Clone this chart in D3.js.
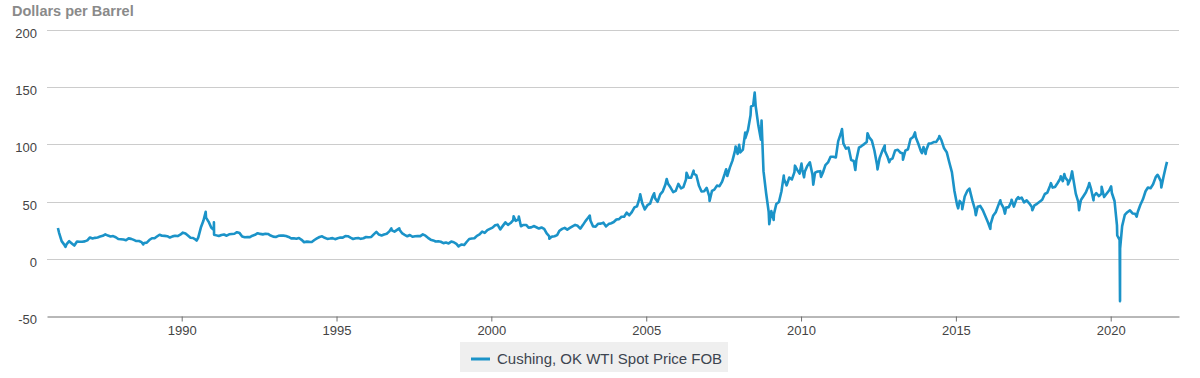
<!DOCTYPE html>
<html>
<head>
<meta charset="utf-8">
<script src="https://cdn.jsdelivr.net/npm/d3@7"></script>
<style>
  html, body { margin: 0; padding: 0; background: #fff; }
  svg { display: block; font-family: "Liberation Sans", Arial, sans-serif; }
</style>
</head>
<body>
<svg id="chart" width="1200" height="378"></svg>
<script>
// ---------- DATA ----------
const startYear = 1986;            // monthly averages begin January 1986
const monthlyPrices = [
  22.93,15.46,12.61,12.84,15.38,13.43,11.59,15.10,14.87,14.90,15.22,16.11, // 1986
  18.65,17.75,18.30,18.68,19.44,20.07,21.34,20.31,19.53,19.86,18.85,17.28, // 1987
  17.13,16.80,16.20,17.86,17.42,16.53,15.50,15.52,14.54,13.77,14.14,16.38, // 1988
  18.02,17.94,19.48,21.07,20.12,20.05,19.78,18.58,19.59,20.10,19.86,21.10, // 1989
  22.86,22.11,20.39,18.43,18.20,16.70,18.45,27.31,33.51,36.04,32.33,27.28, // 1990
  25.23,20.48,19.90,20.83,21.23,20.19,21.40,21.69,21.89,23.23,22.46,19.50, // 1991
  18.79,19.01,18.92,20.23,20.98,22.39,21.78,21.34,21.88,21.69,20.34,19.41, // 1992
  19.03,20.09,20.32,20.25,19.95,19.09,17.89,18.01,17.50,18.15,16.61,14.52, // 1993
  15.03,14.78,14.68,16.42,17.89,19.06,19.66,18.38,17.45,17.72,18.07,17.16, // 1994
  18.04,18.57,18.54,19.90,19.74,18.45,17.33,18.02,18.23,17.43,17.99,19.03, // 1995
  18.86,19.09,21.33,23.50,21.17,20.42,21.30,21.90,23.97,24.88,23.71,25.23, // 1996
  25.13,22.18,20.97,19.70,20.82,19.26,19.66,19.95,19.80,21.33,20.19,18.33, // 1997
  16.72,16.06,15.12,15.35,14.91,13.72,14.17,13.47,15.03,14.46,13.00,11.35, // 1998
  12.52,12.01,14.68,17.31,17.72,17.92,20.10,21.28,23.80,22.69,25.00,26.10, // 1999
  27.26,29.37,29.84,25.72,28.79,31.82,29.70,31.26,33.88,33.11,34.42,28.44, // 2000
  29.59,29.61,27.25,27.49,28.63,27.60,26.43,27.37,26.20,22.17,19.64,19.39, // 2001
  19.72,20.72,24.53,26.18,27.04,25.52,26.97,28.39,29.66,28.84,26.35,29.46, // 2002
  32.95,35.83,33.51,28.17,28.11,30.66,30.76,31.57,28.31,30.34,31.11,32.13, // 2003
  34.31,34.69,36.74,36.75,40.28,38.03,40.78,44.90,45.94,53.28,48.47,43.15, // 2004
  46.84,48.15,54.19,52.98,49.83,56.35,59.00,64.99,65.59,62.26,58.32,59.41, // 2005
  65.49,61.63,62.69,69.44,70.84,70.95,74.41,73.04,63.80,58.89,59.08,61.96, // 2006
  54.51,59.28,60.44,63.98,63.46,67.49,74.12,72.36,79.92,85.80,94.77,91.69, // 2007
  92.97,95.39,105.45,112.58,125.40,133.88,133.37,116.67,104.11,76.61,57.31,41.12, // 2008
  41.71,39.09,47.94,49.65,59.03,69.64,64.15,71.05,69.41,75.72,77.99,74.47, // 2009
  78.33,76.39,81.20,84.29,73.74,75.34,76.32,76.60,75.24,81.89,84.25,89.15, // 2010
  89.17,88.58,102.86,109.53,100.90,96.26,97.30,86.33,85.52,86.32,97.16,98.56, // 2011
  100.27,102.20,106.16,103.32,94.66,82.30,87.90,94.13,94.51,89.49,86.53,87.86, // 2012
  94.76,95.31,92.94,92.02,94.51,95.77,104.67,106.57,106.29,100.54,93.86,97.63, // 2013
  94.62,100.82,100.80,102.07,102.18,105.79,103.59,96.54,93.21,84.40,75.79,59.29, // 2014
  47.22,50.58,47.82,54.45,59.27,59.82,50.90,42.87,45.48,46.22,42.44,37.19, // 2015
  31.68,30.32,37.55,40.75,46.71,48.76,44.65,44.72,45.18,49.78,45.66,51.97, // 2016
  52.50,53.47,49.33,51.06,48.48,45.18,46.63,48.04,49.82,51.58,56.64,57.88, // 2017
  63.70,62.23,62.73,66.25,69.98,67.87,70.98,68.06,70.23,70.75,56.96,49.52, // 2018
  51.38,54.95,58.15,63.86,60.83,54.66,57.35,54.81,56.95,53.96,57.03,59.88, // 2019
  57.52,50.54,29.21,16.55,28.56,38.31,40.71,42.34,39.63,39.40,40.94,47.02, // 2020
  52.00,59.04,62.33,61.72,65.17,71.38,72.49,67.73,71.65,81.48              // 2021
];
// daily highs / lows visible in the chart
const spikeDates = [
  "1986-01-02","1986-04-01","1988-10-05","1990-06-26","1990-10-11","1991-01-16","1991-01-18",
  "1996-10-08","1997-01-10","1998-12-10","2000-09-20","2000-11-20","2001-11-15","2003-03-07",
  "2004-10-22","2005-04-04","2005-08-30","2006-04-21","2006-07-14","2007-01-18","2007-08-01",
  "2007-11-21","2008-01-02","2008-03-13","2008-05-21","2008-07-03","2008-09-22","2008-12-22",
  "2009-02-12","2009-06-11","2009-10-21","2010-01-06","2010-02-05","2010-05-25","2010-08-24",
  "2011-04-29","2011-10-03","2012-02-24","2012-06-21","2012-09-14","2012-11-07","2013-04-17",
  "2013-09-06","2013-11-27","2014-01-09","2014-06-20","2015-01-28","2015-03-17","2015-06-10",
  "2015-08-24","2016-02-11","2016-06-08","2016-08-02","2016-10-19","2017-01-06","2017-06-21",
  "2018-01-26","2018-05-22","2018-07-03","2018-08-15","2018-10-03","2018-12-24","2019-01-02",
  "2019-04-23","2019-06-12","2019-09-16","2020-01-06","2020-03-18","2020-04-20","2020-04-21",
  "2020-11-02","2021-07-06","2021-08-20","2021-10-26"
];
const spikeValues = [
  26.9,10.4,12.6,15.9,41.1,32.0,21.1,
  26.6,26.6,10.8,37.2,36.9,17.5,37.8,
  56.4,57.3,69.8,75.2,77.0,50.5,78.2,
  98.2,99.6,110.3,133.2,145.3,120.9,30.3,
  34.0,72.7,81.4,83.2,71.2,64.8,71.6,
  113.4,77.6,109.8,78.2,99.0,84.4,86.7,
  110.5,92.3,91.7,107.3,44.1,43.4,61.4,
  38.2,26.2,51.2,39.5,51.6,53.9,42.5,
  66.1,72.2,74.1,65.0,76.4,42.5,46.5,
  66.3,51.1,62.9,63.3,20.4,-37.0,8.9,
  36.8,73.4,62.3,84.7
];
const yTicks = [-50, 0, 50, 100, 150, 200];
const xTickYears = [1990, 1995, 2000, 2005, 2010, 2015, 2020];
const seriesName = "Cushing, OK WTI Spot Price FOB";
const yTitle = "Dollars per Barrel";

// ---------- BUILD SERIES ----------
const points = monthlyPrices.map((v, i) => ({
  date: new Date(startYear + Math.floor(i / 12), i % 12, 15), value: v
}));
const parse = d3.timeParse("%Y-%m-%d");
spikeDates.forEach((d, i) => points.push({ date: parse(d), value: spikeValues[i] }));
points.sort((a, b) => a.date - b.date);

// ---------- LAYOUT ----------
const svg = d3.select("#chart");
const plotLeft = 47, plotRight = 1179, plotTop = 30, plotBottom = 316;

const xRef = d3.scaleTime()
  .domain([new Date(1990, 0, 1), new Date(2020, 0, 1)])
  .range([181.7, 1110.7]);
const x = d3.scaleTime()
  .domain([xRef.invert(plotLeft), xRef.invert(plotRight)])
  .range([plotLeft, plotRight]);
const y = d3.scaleLinear().domain([-50, 200]).range([plotBottom, plotTop]);

// gridlines
svg.append("g").selectAll("line")
  .data(yTicks.filter(t => t !== -50))
  .join("line")
  .attr("x1", plotLeft).attr("x2", plotRight)
  .attr("y1", d => Math.round(y(d)) + 0.5).attr("y2", d => Math.round(y(d)) + 0.5)
  .attr("stroke", "#cccccc").attr("stroke-width", 1);

// y labels
svg.append("g").selectAll("text")
  .data(yTicks)
  .join("text")
  .attr("x", 37).attr("y", d => y(d) + 8)
  .attr("text-anchor", "end")
  .attr("font-size", 13).attr("fill", "#444")
  .text(d => d);

// x axis
const xAxis = d3.axisBottom(x)
  .tickValues(xTickYears.map(yr => new Date(yr, 0, 1)))
  .tickFormat(d3.timeFormat("%Y"))
  .tickSize(5).tickSizeOuter(0).tickPadding(4);
const gx = svg.append("g")
  .attr("transform", `translate(0,${Math.round(y(-50)) + 0.5})`)
  .call(xAxis);
gx.select(".domain").attr("stroke", "#707070");
gx.selectAll(".tick line").attr("stroke", "#707070");
gx.selectAll(".tick text")
  .attr("font-size", 13).attr("fill", "#444")
  .attr("font-family", "'Liberation Sans', Arial, sans-serif");

// line
const line = d3.line().x(d => x(d.date)).y(d => y(d.value));
svg.append("path")
  .datum(points)
  .attr("d", line)
  .attr("fill", "none")
  .attr("stroke", "#1b93c8")
  .attr("stroke-width", 2.6)
  .attr("stroke-linejoin", "round");

// title
svg.append("text")
  .attr("x", 12).attr("y", 16)
  .attr("font-size", 14.5).attr("font-weight", "bold").attr("fill", "#8a8a8a")
  .text(yTitle);

// legend
const lg = svg.append("g");
lg.append("rect").attr("x", 460).attr("y", 342).attr("width", 268).attr("height", 30)
  .attr("fill", "#efefef");
lg.append("line").attr("x1", 471).attr("x2", 490).attr("y1", 359).attr("y2", 359)
  .attr("stroke", "#1b93c8").attr("stroke-width", 3);
lg.append("text").attr("x", 497).attr("y", 364)
  .attr("font-size", 15).attr("fill", "#3d4550")
  .text(seriesName);
</script>
</body>
</html>
